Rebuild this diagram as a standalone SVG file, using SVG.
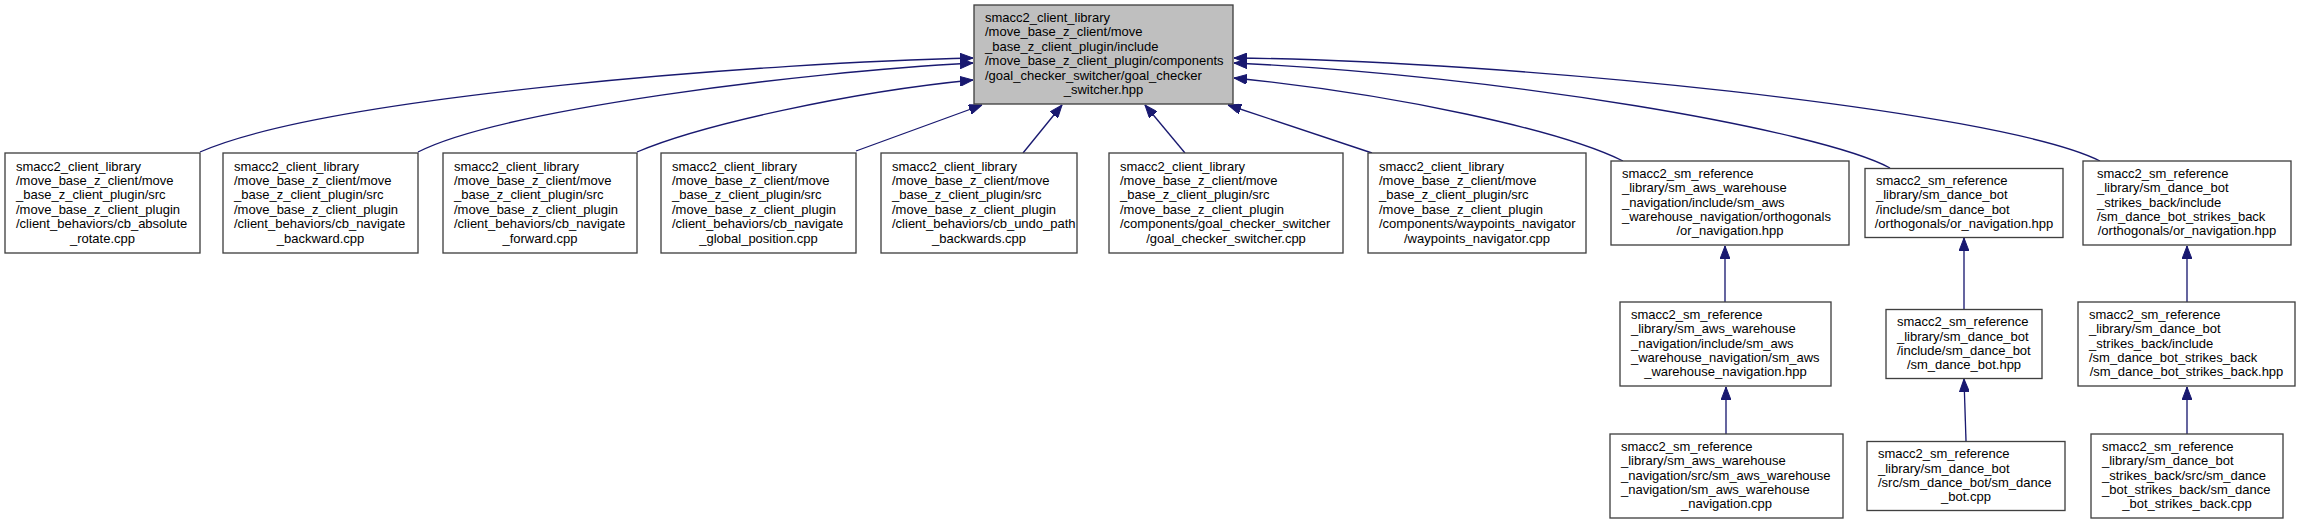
<svg xmlns="http://www.w3.org/2000/svg" width="2300" height="525" viewBox="0 0 2300 525">
<style>
.box{fill:#ffffff;stroke:#404040;stroke-width:1.33}
.root{fill:#bfbfbf;stroke:#404040;stroke-width:1.33}
text{font-family:"Liberation Sans",Arial,Helvetica,sans-serif;font-size:13px;fill:#000}
.c{text-anchor:middle}
.e{fill:none;stroke:#191970;stroke-width:1.33;marker-end:url(#ah)}
</style>
<defs>
<marker id="ah" markerUnits="userSpaceOnUse" viewBox="0 0 13 10" refX="13" refY="5" markerWidth="13" markerHeight="10" orient="auto">
<path d="M0,0 L13,5 L0,10 z" fill="#191970" stroke="#191970" stroke-width="1"/>
</marker>
</defs>
<rect width="2300" height="525" fill="#ffffff"/>
<g id="connectors">
<path class="e" d="M200,152 C330,95 780,62 973,58"/>
<path class="e" d="M418,152 C500,110 800,72 973,63"/>
<path class="e" d="M637,152 C700,125 850,92 973,80"/>
<path class="e" d="M856,151 L982,105"/>
<path class="e" d="M1023,153 L1062,105"/>
<path class="e" d="M1185,153 L1145,105"/>
<path class="e" d="M1372,153 L1228,105"/>
<path class="e" d="M1623,161 C1560,130 1400,95 1234,78"/>
<path class="e" d="M1890,168 C1820,130 1500,75 1234,63"/>
<path class="e" d="M2100,161 C2000,110 1500,60 1234,58"/>
<path class="e" d="M1725,302 L1725,246"/>
<path class="e" d="M1964,309 L1964,238"/>
<path class="e" d="M2187,302 L2187,246"/>
<path class="e" d="M1726,434 L1726,387"/>
<path class="e" d="M1966,441 L1964,379"/>
<path class="e" d="M2187,434 L2187,387"/>
</g>
<g id="root">
<rect class="root" x="974" y="5" width="259" height="99"/>
<text><tspan x="985" y="22">smacc2_client_library</tspan><tspan x="985" y="36.4">/move_base_z_client/move</tspan><tspan x="985" y="50.8">_base_z_client_plugin/include</tspan><tspan x="985" y="65.2">/move_base_z_client_plugin/components</tspan><tspan x="985" y="79.6">/goal_checker_switcher/goal_checker</tspan></text>
<text class="c" x="1103.5" y="94">_switcher.hpp</text>
</g>
<g id="n1">
<rect class="box" x="5" y="153" width="195" height="100"/>
<text><tspan x="16" y="170.5">smacc2_client_library</tspan><tspan x="16" y="184.9">/move_base_z_client/move</tspan><tspan x="16" y="199.3">_base_z_client_plugin/src</tspan><tspan x="16" y="213.7">/move_base_z_client_plugin</tspan><tspan x="16" y="228.1">/client_behaviors/cb_absolute</tspan></text>
<text class="c" x="102.5" y="242.5">_rotate.cpp</text>
</g>
<g id="n2">
<rect class="box" x="223" y="153" width="195" height="100"/>
<text><tspan x="234" y="170.5">smacc2_client_library</tspan><tspan x="234" y="184.9">/move_base_z_client/move</tspan><tspan x="234" y="199.3">_base_z_client_plugin/src</tspan><tspan x="234" y="213.7">/move_base_z_client_plugin</tspan><tspan x="234" y="228.1">/client_behaviors/cb_navigate</tspan></text>
<text class="c" x="320.5" y="242.5">_backward.cpp</text>
</g>
<g id="n3">
<rect class="box" x="443" y="153" width="194" height="100"/>
<text><tspan x="454" y="170.5">smacc2_client_library</tspan><tspan x="454" y="184.9">/move_base_z_client/move</tspan><tspan x="454" y="199.3">_base_z_client_plugin/src</tspan><tspan x="454" y="213.7">/move_base_z_client_plugin</tspan><tspan x="454" y="228.1">/client_behaviors/cb_navigate</tspan></text>
<text class="c" x="540" y="242.5">_forward.cpp</text>
</g>
<g id="n4">
<rect class="box" x="661" y="153" width="195" height="100"/>
<text><tspan x="672" y="170.5">smacc2_client_library</tspan><tspan x="672" y="184.9">/move_base_z_client/move</tspan><tspan x="672" y="199.3">_base_z_client_plugin/src</tspan><tspan x="672" y="213.7">/move_base_z_client_plugin</tspan><tspan x="672" y="228.1">/client_behaviors/cb_navigate</tspan></text>
<text class="c" x="758.5" y="242.5">_global_position.cpp</text>
</g>
<g id="n5">
<rect class="box" x="881" y="153" width="196" height="100"/>
<text><tspan x="892" y="170.5">smacc2_client_library</tspan><tspan x="892" y="184.9">/move_base_z_client/move</tspan><tspan x="892" y="199.3">_base_z_client_plugin/src</tspan><tspan x="892" y="213.7">/move_base_z_client_plugin</tspan><tspan x="892" y="228.1">/client_behaviors/cb_undo_path</tspan></text>
<text class="c" x="979" y="242.5">_backwards.cpp</text>
</g>
<g id="n6">
<rect class="box" x="1109" y="153" width="234" height="100"/>
<text><tspan x="1120" y="170.5">smacc2_client_library</tspan><tspan x="1120" y="184.9">/move_base_z_client/move</tspan><tspan x="1120" y="199.3">_base_z_client_plugin/src</tspan><tspan x="1120" y="213.7">/move_base_z_client_plugin</tspan><tspan x="1120" y="228.1">/components/goal_checker_switcher</tspan></text>
<text class="c" x="1226" y="242.5">/goal_checker_switcher.cpp</text>
</g>
<g id="n7">
<rect class="box" x="1368" y="153" width="218" height="100"/>
<text><tspan x="1379" y="170.5">smacc2_client_library</tspan><tspan x="1379" y="184.9">/move_base_z_client/move</tspan><tspan x="1379" y="199.3">_base_z_client_plugin/src</tspan><tspan x="1379" y="213.7">/move_base_z_client_plugin</tspan><tspan x="1379" y="228.1">/components/waypoints_navigator</tspan></text>
<text class="c" x="1477" y="242.5">/waypoints_navigator.cpp</text>
</g>
<g id="n8">
<rect class="box" x="1611" y="161" width="238" height="84"/>
<text><tspan x="1622" y="177.7">smacc2_sm_reference</tspan><tspan x="1622" y="192.1">_library/sm_aws_warehouse</tspan><tspan x="1622" y="206.5">_navigation/include/sm_aws</tspan><tspan x="1622" y="220.9">_warehouse_navigation/orthogonals</tspan></text>
<text class="c" x="1730" y="235.3">/or_navigation.hpp</text>
</g>
<g id="n9">
<rect class="box" x="1865" y="168.5" width="198" height="69"/>
<text><tspan x="1876" y="184.9">smacc2_sm_reference</tspan><tspan x="1876" y="199.3">_library/sm_dance_bot</tspan><tspan x="1876" y="213.7">/include/sm_dance_bot</tspan></text>
<text class="c" x="1964" y="228.1">/orthogonals/or_navigation.hpp</text>
</g>
<g id="n10">
<rect class="box" x="2083" y="161" width="208" height="84"/>
<text><tspan x="2097" y="177.7">smacc2_sm_reference</tspan><tspan x="2097" y="192.1">_library/sm_dance_bot</tspan><tspan x="2097" y="206.5">_strikes_back/include</tspan><tspan x="2097" y="220.9">/sm_dance_bot_strikes_back</tspan></text>
<text class="c" x="2187" y="235.3">/orthogonals/or_navigation.hpp</text>
</g>
<g id="n11">
<rect class="box" x="1620" y="302" width="211" height="84"/>
<text><tspan x="1631" y="318.7">smacc2_sm_reference</tspan><tspan x="1631" y="333.1">_library/sm_aws_warehouse</tspan><tspan x="1631" y="347.5">_navigation/include/sm_aws</tspan><tspan x="1631" y="361.9">_warehouse_navigation/sm_aws</tspan></text>
<text class="c" x="1725.5" y="376.3">_warehouse_navigation.hpp</text>
</g>
<g id="n12">
<rect class="box" x="1886" y="309.5" width="156" height="69"/>
<text><tspan x="1897" y="326.1">smacc2_sm_reference</tspan><tspan x="1897" y="340.5">_library/sm_dance_bot</tspan><tspan x="1897" y="354.9">/include/sm_dance_bot</tspan></text>
<text class="c" x="1964" y="369.3">/sm_dance_bot.hpp</text>
</g>
<g id="n13">
<rect class="box" x="2078" y="302" width="217" height="84"/>
<text><tspan x="2089" y="318.7">smacc2_sm_reference</tspan><tspan x="2089" y="333.1">_library/sm_dance_bot</tspan><tspan x="2089" y="347.5">_strikes_back/include</tspan><tspan x="2089" y="361.9">/sm_dance_bot_strikes_back</tspan></text>
<text class="c" x="2186.5" y="376.3">/sm_dance_bot_strikes_back.hpp</text>
</g>
<g id="n14">
<rect class="box" x="1610" y="434" width="233" height="84"/>
<text><tspan x="1621" y="450.7">smacc2_sm_reference</tspan><tspan x="1621" y="465.1">_library/sm_aws_warehouse</tspan><tspan x="1621" y="479.5">_navigation/src/sm_aws_warehouse</tspan><tspan x="1621" y="493.9">_navigation/sm_aws_warehouse</tspan></text>
<text class="c" x="1726.5" y="508.3">_navigation.cpp</text>
</g>
<g id="n15">
<rect class="box" x="1867" y="441.5" width="198" height="69"/>
<text><tspan x="1878" y="458.1">smacc2_sm_reference</tspan><tspan x="1878" y="472.5">_library/sm_dance_bot</tspan><tspan x="1878" y="486.9">/src/sm_dance_bot/sm_dance</tspan></text>
<text class="c" x="1966" y="501.3">_bot.cpp</text>
</g>
<g id="n16">
<rect class="box" x="2091" y="434" width="192" height="84"/>
<text><tspan x="2102" y="450.7">smacc2_sm_reference</tspan><tspan x="2102" y="465.1">_library/sm_dance_bot</tspan><tspan x="2102" y="479.5">_strikes_back/src/sm_dance</tspan><tspan x="2102" y="493.9">_bot_strikes_back/sm_dance</tspan></text>
<text class="c" x="2187" y="508.3">_bot_strikes_back.cpp</text>
</g>
</svg>
